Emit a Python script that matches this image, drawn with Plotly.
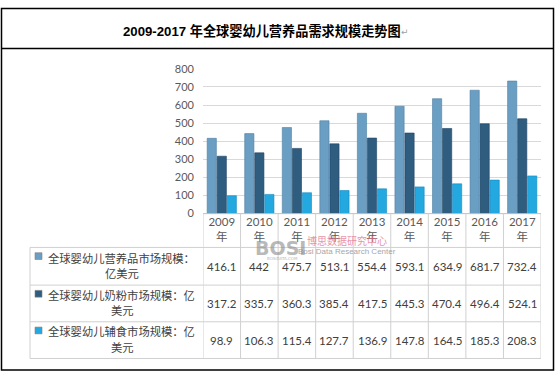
import plotly.graph_objects as go

W, H = 556, 378

years = ["2009", "2010", "2011", "2012", "2013", "2014", "2015", "2016", "2017"]
year_labels = [y + "<br>年" for y in years]
nutrition = [416.1, 442, 475.7, 513.1, 554.4, 593.1, 634.9, 681.7, 732.4]
milk_powder = [317.2, 335.7, 360.3, 385.4, 417.5, 445.3, 470.4, 496.4, 524.1]
supplementary = [98.9, 106.3, 115.4, 127.7, 136.9, 147.8, 164.5, 185.3, 208.3]
value_labels = [["416.1", "442", "475.7", "513.1", "554.4", "593.1", "634.9", "681.7", "732.4"],
                ["317.2", "335.7", "360.3", "385.4", "417.5", "445.3", "470.4", "496.4", "524.1"],
                ["98.9", "106.3", "115.4", "127.7", "136.9", "147.8", "164.5", "185.3", "208.3"]]
series_lines = [["全球婴幼儿营养品市场规模：", "亿美元"],
                ["全球婴幼儿奶粉市场规模：亿", "美元"],
                ["全球婴幼儿辅食市场规模：亿", "美元"]]
series_names = [a + b for a, b in series_lines]
y_ticks = [0, 100, 200, 300, 400, 500, 600, 700, 800]
title_text = "2009-2017 年全球婴幼儿营养品需求规模走势图"

colors = ["#6A9EC2", "#2F5D80", "#23A8E0"]
edge = ["#4F80A3", "#1E4262", "#1588C0"]

def px_x(p):
    return p / W

def px_y(p):
    return 1 - p / H

fig = go.Figure()
for vals, name, c, e in zip([nutrition, milk_powder, supplementary], series_names, colors, edge):
    fig.add_trace(go.Bar(x=years, y=vals, name=name, marker=dict(color=c, line=dict(color=e, width=0.6)),
                         showlegend=False))

plot_left, plot_right = 203, 541
plot_top, plot_bottom = 64, 214

fig.update_layout(
    width=W, height=H,
    margin=dict(l=0, r=0, t=0, b=0),
    paper_bgcolor="white", plot_bgcolor="white",
    barmode="group", bargap=0.2, bargroupgap=0.08,
    xaxis=dict(domain=[px_x(plot_left), px_x(plot_right)], range=[-0.5, 8.5],
               tickmode="array", tickvals=years, ticktext=year_labels,
               tickfont=dict(family="Lato, Noto Sans CJK SC", size=11.5, color="#595959"),
               showgrid=False, showline=False, ticks="", zeroline=False),
    yaxis=dict(domain=[px_y(plot_bottom), px_y(plot_top)], range=[0, 800],
               tickvals=y_ticks, showgrid=True, gridcolor="#D9D9D9", gridwidth=1,
               zeroline=False, showline=False, ticks="", ticklabelstandoff=8,
               tickfont=dict(family="Lato", size=11, color="#595959")),
    font=dict(family="Noto Sans CJK SC"),
)

shapes = []
line_col = "#D0D0D0"
# outer border and title separator
shapes.append(dict(type="rect", xref="paper", yref="paper", x0=px_x(1.5), x1=px_x(553.5), y0=px_y(376), y1=px_y(1.5),
                   line=dict(color="black", width=1.5)))
shapes.append(dict(type="line", xref="paper", yref="paper", x0=px_x(1.5), x1=px_x(553.5), y0=px_y(43), y1=px_y(43),
                   line=dict(color="black", width=1.5)))
# table horizontal lines
shapes.append(dict(type="line", xref="paper", yref="paper", x0=px_x(plot_left), x1=px_x(plot_right),
                   y0=px_y(214), y1=px_y(214), line=dict(color="#BFBFBF", width=1)))
for yy in [249, 288, 326, 364]:
    shapes.append(dict(type="line", xref="paper", yref="paper", x0=px_x(30), x1=px_x(plot_right),
                       y0=px_y(yy), y1=px_y(yy), line=dict(color=line_col, width=1)))
# table vertical lines
for i in range(len(years) + 1):
    shapes.append(dict(type="line", xref="x", yref="paper", x0=i - 0.5, x1=i - 0.5,
                       y0=px_y(214), y1=px_y(364), line=dict(color=line_col, width=1)))
shapes.append(dict(type="line", xref="paper", yref="paper", x0=px_x(30), x1=px_x(30),
                   y0=px_y(249), y1=px_y(364), line=dict(color=line_col, width=1)))

annotations = []
row_centers = [268.5, 307, 345]
icon_y = [258, 297, 335]
line2_left = [103, 109, 109]
for r in range(3):
    shapes.append(dict(type="rect", xref="paper", yref="paper", x0=px_x(35), x1=px_x(42),
                       y0=px_y(icon_y[r] + 3.5), y1=px_y(icon_y[r] - 3.5),
                       fillcolor=colors[r], line=dict(color="#7F7F7F", width=0.6)))
    l1, l2 = series_lines[r]
    annotations.append(dict(xref="paper", yref="paper", x=px_x(46), y=px_y(row_centers[r] - 9),
                            text=l1, showarrow=False, xanchor="left", yanchor="middle",
                            font=dict(family="Noto Sans CJK SC", size=11.3, color="#404040")))
    annotations.append(dict(xref="paper", yref="paper", x=px_x(line2_left[r]), y=px_y(row_centers[r] + 7),
                            text=l2, showarrow=False, xanchor="left", yanchor="middle",
                            font=dict(family="Noto Sans CJK SC", size=11.3, color="#404040")))
    for i, v in enumerate(value_labels[r]):
        annotations.append(dict(xref="x", yref="paper", x=i, y=px_y(row_centers[r]), text=v,
                                showarrow=False, xanchor="center", yanchor="middle",
                                font=dict(family="Lato", size=11.5, color="#404040")))

# title
annotations.append(dict(xref="paper", yref="paper", x=px_x(262), y=px_y(25), text="<b>" + title_text + "</b>",
                        showarrow=False, xanchor="center", yanchor="middle",
                        font=dict(family="Liberation Sans, Noto Sans CJK SC", size=13.2, color="black")))
annotations.append(dict(xref="paper", yref="paper", x=px_x(405), y=px_y(26), text="↵",
                        showarrow=False, xanchor="center", yanchor="middle",
                        font=dict(family="DejaVu Sans", size=9, color="#A0A0A0")))

# watermark
annotations.append(dict(xref="paper", yref="paper", x=px_x(280), y=px_y(250), text="<b>BOSI</b>",
                        showarrow=False, xanchor="center", yanchor="middle", opacity=0.6,
                        font=dict(family="DejaVu Sans", size=19, color="#8C8C8C")))
annotations.append(dict(xref="paper", yref="paper", x=px_x(282), y=px_y(260), text="BOSIDATA.COM",
                        showarrow=False, xanchor="center", yanchor="middle", opacity=0.6,
                        font=dict(family="DejaVu Sans", size=4, color="#8C8C8C")))
annotations.append(dict(xref="paper", yref="paper", x=px_x(347), y=px_y(242), text="博思数据研究中心",
                        showarrow=False, xanchor="center", yanchor="middle", opacity=0.75,
                        font=dict(family="Noto Sans CJK SC", size=10, color="#E0708C")))
annotations.append(dict(xref="paper", yref="paper", x=px_x(347), y=px_y(253), text="Bosi Data Research Center",
                        showarrow=False, xanchor="center", yanchor="middle", opacity=0.7,
                        font=dict(family="Liberation Sans Narrow, Liberation Sans", size=8, color="#808080")))

fig.update_layout(shapes=shapes, annotations=annotations)
fig.write_html("out.html", config={"displayModeBar": False},
               post_script="document.body.style.margin='0';document.body.style.overflow='hidden';")
